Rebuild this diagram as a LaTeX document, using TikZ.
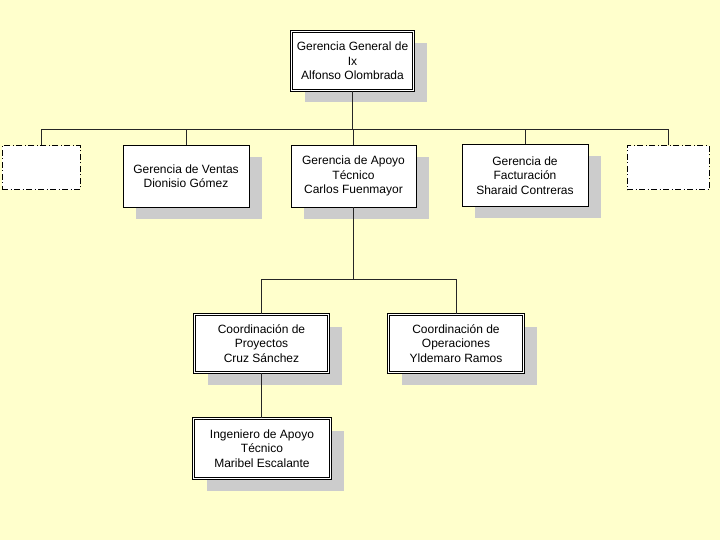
\documentclass[tikz,border=0pt]{standalone}
\usepackage{fontspec}
\setmainfont{Liberation Sans}
\usetikzlibrary{shadows}
\definecolor{fondo}{HTML}{FFFFCC}
\definecolor{sombra}{HTML}{CCCCCC}
\tikzset{x=1pt, y=-1pt,
  unidad/.style={rectangle, draw, fill=white, line width=0.8pt, align=center,
    font=\fontsize{12}{14.5}\selectfont, inner sep=2pt,
    drop shadow={shadow xshift=13pt, shadow yshift=-12pt, fill=sombra, opacity=1}},
  jefatura/.style={unidad, double=white, double distance=1.6pt, line width=0.7pt},
  vacante/.style={rectangle, draw, fill=white, line width=1pt,
    dash pattern=on 6pt off 2.5pt on 1pt off 2.5pt},
  enlace/.style={draw=black!85, line width=0.9pt}}

\begin{document}
\begin{tikzpicture}
    \fill[fondo] (0,0) rectangle (720,540);
    \useasboundingbox (0,0) rectangle (720,540);
    \node[jefatura, minimum width=122pt, minimum height=59pt] (gg) at (352.5,61) {Gerencia General de\\Ix\\Alfonso Olombrada};
    \node[vacante, minimum width=78pt, minimum height=44pt] (vacL) at (41,168) {};
    \node[unidad, minimum width=126pt, minimum height=62pt] (ventas) at (186,176) {Gerencia de Ventas\\Dionisio Gómez};
    \node[unidad, minimum width=125pt, minimum height=62pt] (apoyo) at (353.5,176) {Gerencia de Apoyo\\Técnico\\Carlos Fuenmayor};
    \node[unidad, minimum width=126pt, minimum height=62pt] (fact) at (525,175.5) {Gerencia de\\Facturación\\Sharaid Contreras};
    \node[vacante, minimum width=82pt, minimum height=44pt] (vacR) at (668,168) {};
    \node[jefatura, minimum width=134pt, minimum height=58pt] (proy) at (261.5,343.5) {Coordinación de\\Proyectos\\Cruz Sánchez};
    \node[jefatura, minimum width=135pt, minimum height=58pt] (oper) at (456,343.5) {Coordinación de\\Operaciones\\Yldemaro Ramos};
    \node[jefatura, minimum width=137pt, minimum height=60pt] (ing) at (262,448.5) {Ingeniero de Apoyo\\Técnico\\Maribel Escalante};
    \coordinate (bus) at (352.5,129);
    \coordinate (ramal) at (353.5,279);
    \draw[enlace] (gg.south) -- (bus);
    \foreach \n in {vacL,ventas,apoyo,fact,vacR}
        \draw[enlace] (\n.north) |- (bus);
    \draw[enlace] (apoyo.south) -- (ramal);
    \draw[enlace] (proy.north) |- (ramal);
    \draw[enlace] (oper.north) |- (ramal);
    \draw[enlace] (proy.south) -- (proy.south |- ing.north);
\end{tikzpicture}
\end{document}
